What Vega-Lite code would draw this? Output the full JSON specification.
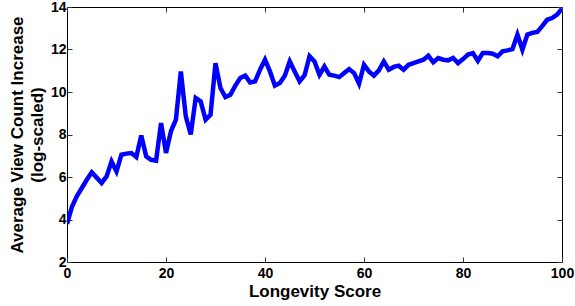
{
  "$schema": "https://vega.github.io/schema/vega-lite/v6.json",
  "width": 495,
  "height": 255,
  "autosize": "none",
  "padding": {"left": 67, "top": 7, "right": 13, "bottom": 44},
  "background": "white",
  "config": {
    "view": {"stroke": "black", "strokeWidth": 1},
    "font": "Liberation Sans",
    "axis": {
      "grid": false,
      "domain": false,
      "tickColor": "#333333",
      "tickSize": -5,
      "labelFont": "Liberation Sans",
      "labelFontWeight": "bold",
      "labelFontSize": 14,
      "labelColor": "black",
      "titleFont": "Liberation Sans",
      "titleFontWeight": "bold",
      "titleFontSize": 17,
      "titleColor": "black"
    }
  },
  "data": {
    "values": [
      {"s": 0, "v": 3.8}, {"s": 1, "v": 4.6}, {"s": 2, "v": 5.1}, {"s": 3, "v": 5.48}, {"s": 4, "v": 5.87},
      {"s": 5, "v": 6.22}, {"s": 6, "v": 5.97}, {"s": 7, "v": 5.72}, {"s": 8, "v": 6.03}, {"s": 9, "v": 6.73},
      {"s": 10, "v": 6.26}, {"s": 11, "v": 7.05}, {"s": 12, "v": 7.1}, {"s": 13, "v": 7.13}, {"s": 14, "v": 6.94},
      {"s": 15, "v": 7.95}, {"s": 16, "v": 6.97}, {"s": 17, "v": 6.81}, {"s": 18, "v": 6.77}, {"s": 19, "v": 8.54},
      {"s": 20, "v": 7.13}, {"s": 21, "v": 8.15}, {"s": 22, "v": 8.7}, {"s": 23, "v": 10.97}, {"s": 24, "v": 8.85},
      {"s": 25, "v": 8.0}, {"s": 26, "v": 9.72}, {"s": 27, "v": 9.56}, {"s": 28, "v": 8.7}, {"s": 29, "v": 8.93},
      {"s": 30, "v": 11.36}, {"s": 31, "v": 10.19}, {"s": 32, "v": 9.76}, {"s": 33, "v": 9.87}, {"s": 34, "v": 10.3},
      {"s": 35, "v": 10.66}, {"s": 36, "v": 10.77}, {"s": 37, "v": 10.45}, {"s": 38, "v": 10.5}, {"s": 39, "v": 11.05},
      {"s": 40, "v": 11.52}, {"s": 41, "v": 10.97}, {"s": 42, "v": 10.3}, {"s": 43, "v": 10.42}, {"s": 44, "v": 10.77},
      {"s": 45, "v": 11.44}, {"s": 46, "v": 10.97}, {"s": 47, "v": 10.5}, {"s": 48, "v": 10.79}, {"s": 49, "v": 11.68},
      {"s": 50, "v": 11.44}, {"s": 51, "v": 10.81}, {"s": 52, "v": 11.2}, {"s": 53, "v": 10.81}, {"s": 54, "v": 10.77},
      {"s": 55, "v": 10.7}, {"s": 56, "v": 10.89}, {"s": 57, "v": 11.08}, {"s": 58, "v": 10.89}, {"s": 59, "v": 10.39},
      {"s": 60, "v": 11.28}, {"s": 61, "v": 10.97}, {"s": 62, "v": 10.77}, {"s": 63, "v": 11.02}, {"s": 64, "v": 11.44},
      {"s": 65, "v": 11.05}, {"s": 66, "v": 11.18}, {"s": 67, "v": 11.24}, {"s": 68, "v": 11.05}, {"s": 69, "v": 11.28},
      {"s": 70, "v": 11.36}, {"s": 71, "v": 11.44}, {"s": 72, "v": 11.52}, {"s": 73, "v": 11.71}, {"s": 74, "v": 11.4},
      {"s": 75, "v": 11.6}, {"s": 76, "v": 11.52}, {"s": 77, "v": 11.49}, {"s": 78, "v": 11.6}, {"s": 79, "v": 11.36},
      {"s": 80, "v": 11.55}, {"s": 81, "v": 11.76}, {"s": 82, "v": 11.83}, {"s": 83, "v": 11.47}, {"s": 84, "v": 11.83},
      {"s": 85, "v": 11.83}, {"s": 86, "v": 11.8}, {"s": 87, "v": 11.68}, {"s": 88, "v": 11.91}, {"s": 89, "v": 11.96},
      {"s": 90, "v": 12.02}, {"s": 91, "v": 12.7}, {"s": 92, "v": 11.99}, {"s": 93, "v": 12.7}, {"s": 94, "v": 12.78},
      {"s": 95, "v": 12.83}, {"s": 96, "v": 13.1}, {"s": 97, "v": 13.4}, {"s": 98, "v": 13.48}, {"s": 99, "v": 13.64},
      {"s": 100, "v": 13.92}
    ]
  },
  "layer": [
    {
      "mark": {"type": "line", "color": "#0000FF", "strokeWidth": 4.5, "strokeJoin": "miter", "clip": true},
      "encoding": {
        "x": {
          "field": "s", "type": "quantitative",
          "scale": {"domain": [0, 100], "nice": false, "zero": false},
          "axis": {"orient": "bottom", "values": [0, 20, 40, 60, 80, 100], "title": "Longevity Score", "labelPadding": 9, "titlePadding": 3, "labelFlush": false}
        },
        "y": {
          "field": "v", "type": "quantitative",
          "scale": {"domain": [2, 14], "nice": false, "zero": false},
          "axis": {"orient": "left", "values": [2, 4, 6, 8, 10, 12, 14], "title": ["Average View Count Increase", "(log-scaled)"], "labelPadding": 6, "titlePadding": 4, "titleLineHeight": 20, "labelFlush": false}
        }
      }
    },
    {
      "mark": {"type": "line", "opacity": 0},
      "encoding": {
        "x": {
          "field": "s", "type": "quantitative",
          "axis": {"orient": "top", "values": [0, 20, 40, 60, 80, 100], "labels": false, "title": null}
        },
        "y": {
          "field": "v", "type": "quantitative",
          "axis": {"orient": "right", "values": [2, 4, 6, 8, 10, 12, 14], "labels": false, "title": null}
        }
      }
    }
  ],
  "resolve": {"axis": {"x": "independent", "y": "independent"}}
}
